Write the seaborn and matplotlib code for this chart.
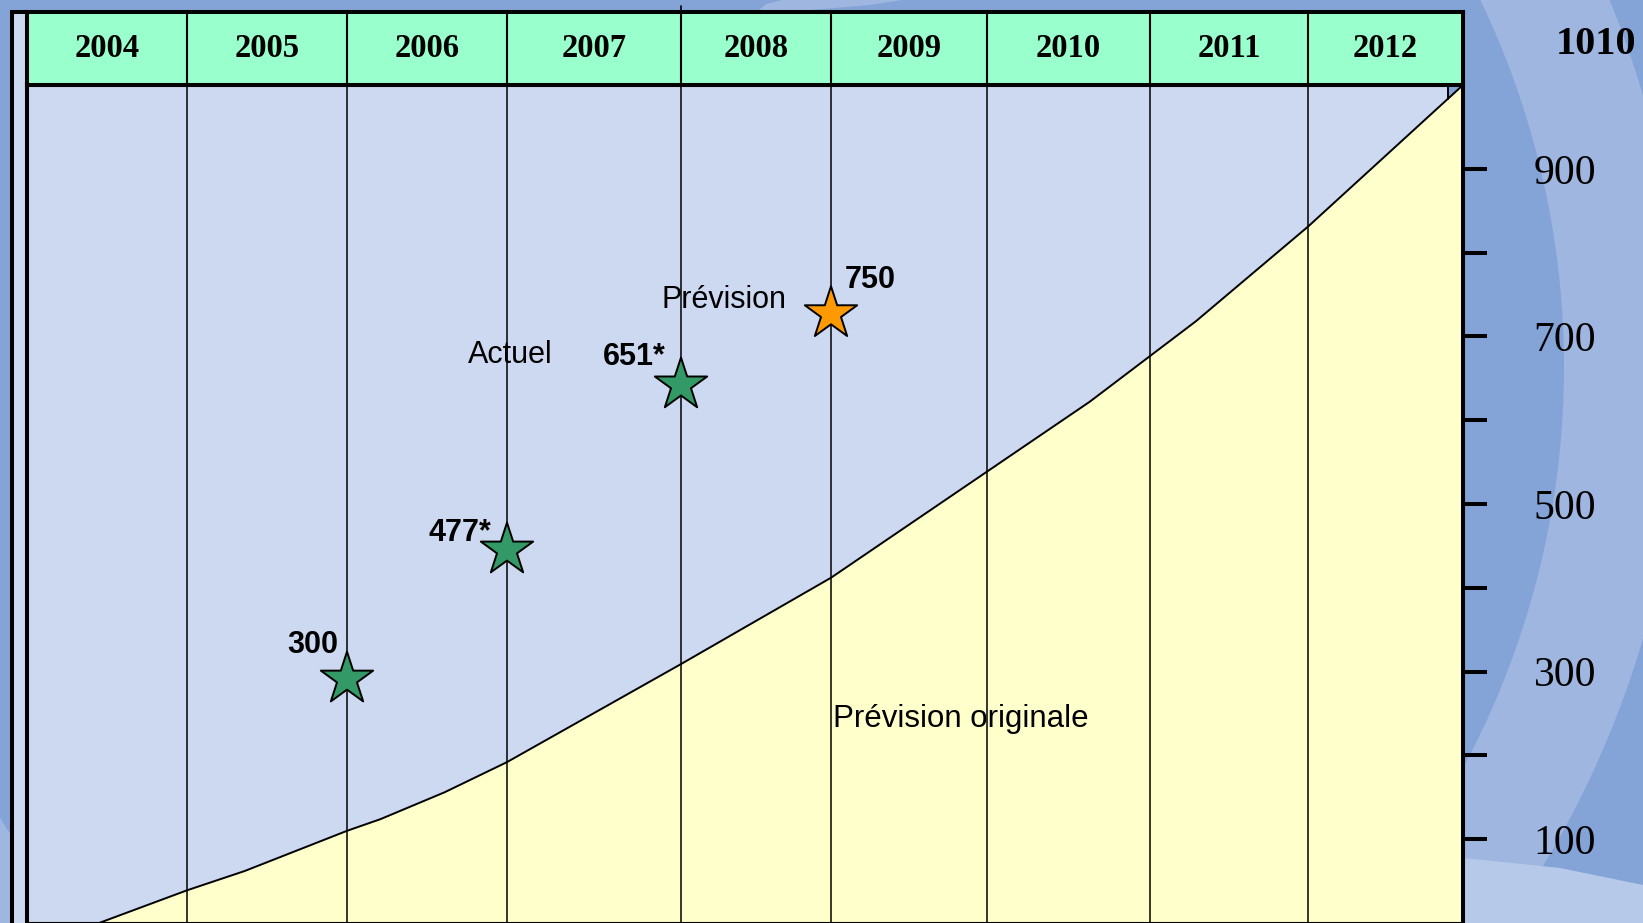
import numpy as np
import pandas as pd
import matplotlib.pyplot as plt
import seaborn as sns
from matplotlib.patches import Wedge, Polygon, Rectangle

sns.set_theme(style='white')
plt.rcParams['font.family'] = ['Liberation Sans', 'DejaVu Sans']
plt.rcParams['text.color'] = 'black'

# ---- data ----
years = [2004, 2005, 2006, 2007, 2008, 2009, 2010, 2011, 2012]

# original forecast curve (year position, value)
curve_year = [2004.45, 2005.0, 2005.36, 2006.0, 2006.21, 2006.61, 2007.0,
              2008.0, 2009.0, 2010.63, 2011.29, 2012.0, 2013.0]
curve_value = [0, 39, 62, 110, 124, 156, 192, 309, 412, 622, 718, 831, 1000]

# stars: actual values and forecast
star_year = [2006, 2007, 2008, 2009]
star_value = [291, 445, 642, 727]
star_label = ['300', '477*', '651*', '750']
star_kind = ['Actuel', 'Actuel', 'Actuel', 'Prévision']

ytick_values = [100, 200, 300, 400, 500, 600, 700, 800, 900]
ytick_labels = ['100', '', '300', '', '500', '', '700', '', '900']
top_label = '1010'

# ---- layout ----
W, H = 1643, 923
BG = '#84a4d8'
PANEL = '#ccd9f0'
FILL = '#ffffcc'
HEAD = '#99ffcc'

# columns are not all the same width in the original
col_width = [160, 160, 160, 174, 150, 156, 163, 158, 155]
edge_years = np.arange(2004, 2014)
edge_pos = np.concatenate([[0], np.cumsum(col_width)]).astype(float)


def fwd(x):
    return np.interp(x, edge_years, edge_pos)


def inv(x):
    return np.interp(x, edge_pos, edge_years)


fig = plt.figure(figsize=(W / 100, H / 100), dpi=100, facecolor=BG)

# background decoration (pixel coords)
bg = fig.add_axes([0, 0, 1, 1], zorder=-1)
bg.set_xlim(0, W)
bg.set_ylim(H, 0)
bg.axis('off')
bg.add_patch(Wedge((717, 367), 965, 0, 360, width=118, color='#9fb7e0', lw=0))
bg.add_patch(Polygon([(757, 12), (766, 4), (782, 0), (902, 0), (870, 5), (810, 10), (780, 12)],
                     closed=True, color='#9fb7e0', lw=0))
bg.add_patch(Polygon([(1463, 858), (1560, 868), (1643, 885), (1643, 923), (1463, 923)],
                     closed=True, color='#b6c9e9', lw=0))
bg.add_patch(Rectangle((12, 12), 1463 - 12, H, facecolor=PANEL, edgecolor='black', lw=2.9))
bg.plot([681, 681], [6, 12], color='black', lw=1.2)

x0, x1 = 27 / W, 1463 / W
yh = 1 - 85 / H
ax = fig.add_axes([x0, 0, x1 - x0, yh])
hax = fig.add_axes([x0, yh, x1 - x0, (85 - 12) / H])

for a in (ax, hax):
    a.set_xscale('function', functions=(fwd, inv))
    a.set_xlim(2004, 2013)
    a.set_xticks([])
    for s in a.spines.values():
        s.set_color('black')
        s.set_linewidth(2.9)

# ---- header row ----
hax.set_facecolor(HEAD)
hax.set_ylim(0, 1)
hax.set_yticks([])
for yr in years[1:]:
    hax.axvline(yr, color='black', lw=1.5)
for yr in years:
    hax.text(yr + 0.5, 0.5, str(yr), ha='center', va='center',
             fontsize=23.5, fontweight='bold', family='Liberation Serif')

# ---- main panel ----
ax.set_facecolor(PANEL)
ax.set_ylim(0, 1000)
ax.spines['bottom'].set_linewidth(1.5)

ax.fill_between(curve_year, 0, curve_value, color=FILL, lw=0, zorder=1)
for yr in years[1:]:
    ax.axvline(yr, color='black', lw=1.1, zorder=2)
sns.lineplot(x=curve_year, y=curve_value, color='black', lw=1.4, ax=ax,
             sort=False, zorder=3)

# little notch at the top right corner
xn = 2012.9
yn = np.interp(xn, curve_year, curve_value)
ax.fill_between([xn, 2013], [yn, 1000], 1000, color=BG, lw=0, zorder=2)
ax.plot([xn, xn], [yn, 1000], color='black', lw=1.4, zorder=3)

stars = pd.DataFrame({'year': star_year, 'value': star_value, 'kind': star_kind})
sns.scatterplot(data=stars, x='year', y='value', hue='kind', marker='*', s=1570,
                palette={'Actuel': '#339966', 'Prévision': '#ff9900'},
                edgecolor='black', linewidth=1.4, legend=False, ax=ax, zorder=4)

label_offsets = [(-24.5, 18.7), (-34, 6.5), (-34, 14.4), (28, 18.7)]
for xv, yv, lab, off in zip(star_year, star_value, star_label, label_offsets):
    ax.annotate(lab, (xv, yv), xytext=off, textcoords='offset points',
                ha='center', va='baseline', fontsize=22, fontweight='bold',
                color='black', zorder=5)

ax.text(2007.02, 668, 'Actuel', ha='center', va='baseline', fontsize=22, zorder=5)
ax.text(2008.29, 734, 'Prévision', ha='center', va='baseline', fontsize=22, zorder=5)
ax.text(2009.83, 234, 'Prévision originale', ha='center', va='baseline',
        fontsize=22.5, zorder=5)

ax.set_xlabel('')
ax.set_ylabel('')
ax.yaxis.tick_right()
ax.set_yticks(ytick_values)
ax.set_yticklabels(ytick_labels)
ax.tick_params(axis='y', direction='inout', length=34.5, width=2.9, pad=56,
               labelsize=30, labelfontfamily='Liberation Serif', colors='black',
               left=False, right=True, labelleft=False, labelright=True)
for t in ax.get_yticklabels():
    t.set_ha('center')

fig.text(1596 / W, 1 - 44 / H, top_label, ha='center', va='center', fontsize=29,
         fontweight='bold', family='Liberation Serif')

fig.savefig('out.png', dpi=100, facecolor=BG)
